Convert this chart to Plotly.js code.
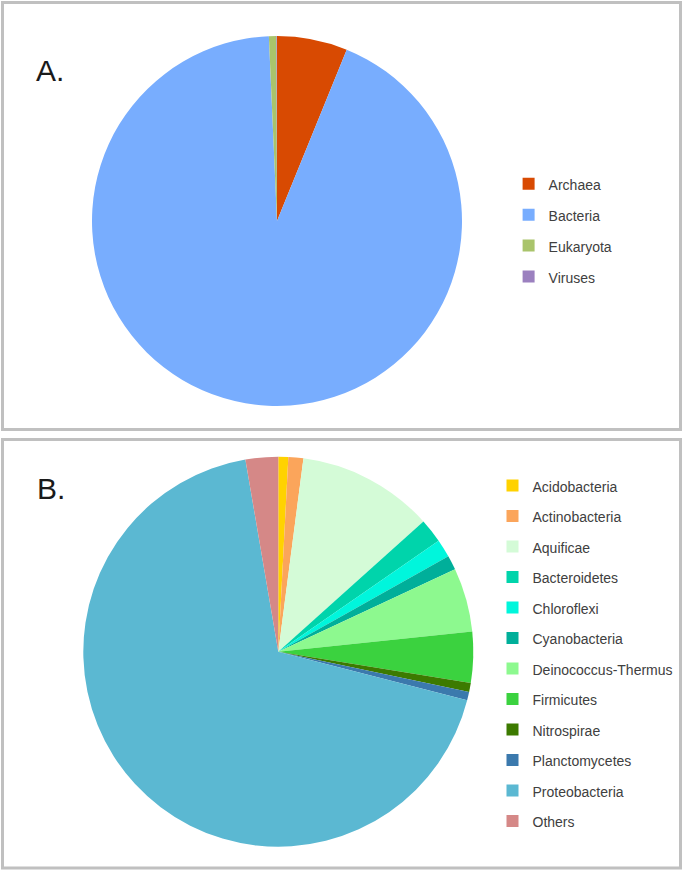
<!DOCTYPE html>
<html>
<head>
<meta charset="utf-8">
<script src="https://cdn.plot.ly/plotly-3.0.1.min.js"></script>
<style>html,body{margin:0;padding:0;background:#fff;}#chart{width:685px;height:873px;}</style>
</head>
<body>
<div id="chart"></div>
<script>
// Panel A: domains of life
const domainLabels = ['Archaea', 'Bacteria', 'Eukaryota', 'Viruses'];
const domainValues = [6.15, 93.15, 0.65, 0.05];
const domainColors = ['#D84A02', '#78ADFE', '#A9C46B', '#9B80BF'];

// Panel B: bacterial phyla
const phylumLabels = ['Acidobacteria', 'Actinobacteria', 'Aquificae', 'Bacteroidetes', 'Chloroflexi',
  'Cyanobacteria', 'Deinococcus-Thermus', 'Firmicutes', 'Nitrospirae', 'Planctomycetes',
  'Proteobacteria', 'Others'];
const phylumValues = [0.82, 1.24, 11.3, 2.0, 1.5, 1.2, 5.3, 4.2, 0.75, 0.7, 68.3, 2.7];
const phylumColors = ['#FFD200', '#FBA55B', '#D4FBD7', '#00D4AB', '#00F6DC', '#00AF9A',
  '#8DF98F', '#3BD23F', '#3C7A00', '#3B79AD', '#5BB8D2', '#D58887'];

const panelLetters = ['A.', 'B.'];

const W = 685, H = 873;
const px = v => v / W;
const py = v => 1 - v / H;
const wrap = s => '<span style="font-size:14px;baseline-shift:2px">' + s + '</span>';

const traces = [
  {
    type: 'pie', labels: domainLabels.map(wrap), values: domainValues,
    marker: {colors: domainColors, line: {width: 0}},
    sort: false, direction: 'clockwise', rotation: 0,
    textinfo: 'none', hoverinfo: 'label+percent',
    domain: {x: [px(92), px(462)], y: [py(406), py(36)]},
    legend: 'legend'
  },
  {
    type: 'pie', labels: phylumLabels.map(wrap), values: phylumValues,
    marker: {colors: phylumColors, line: {width: 0}},
    sort: false, direction: 'clockwise', rotation: 0,
    textinfo: 'none', hoverinfo: 'label+percent',
    domain: {x: [px(83.3), px(473.3)], y: [py(846.7), py(456.7)]},
    legend: 'legend2'
  }
];

const frame = (y0, y1) => ({
  type: 'rect', xref: 'paper', yref: 'paper',
  x0: px(2.5), x1: px(680.5), y0: py(y1), y1: py(y0),
  line: {color: '#C0C0C0', width: 3}, fillcolor: 'rgba(0,0,0,0)'
});

const layout = {
  width: W, height: H,
  margin: {l: 0, r: 0, t: 0, b: 0},
  paper_bgcolor: '#fff',
  font: {family: '"Liberation Sans", Arial, sans-serif', color: '#404040'},
  showlegend: true,
  legend: {
    x: px(508.6), xanchor: 'left', y: py(163.3), yanchor: 'top',
    font: {size: 21.46, color: '#404040'}, bgcolor: 'rgba(0,0,0,0)', borderwidth: 0
  },
  legend2: {
    x: px(492.5), xanchor: 'left', y: py(465.2), yanchor: 'top',
    font: {size: 21.15, color: '#404040'}, bgcolor: 'rgba(0,0,0,0)', borderwidth: 0
  },
  shapes: [frame(2.5, 429.5), frame(439.5, 868)],
  annotations: [
    {text: panelLetters[0], xref: 'paper', yref: 'paper', x: px(34), y: py(70.5),
     xanchor: 'left', yanchor: 'middle', showarrow: false,
     font: {size: 30, color: '#1A1A1A', family: '"Liberation Sans", Arial, sans-serif'}},
    {text: panelLetters[1], xref: 'paper', yref: 'paper', x: px(35), y: py(488),
     xanchor: 'left', yanchor: 'middle', showarrow: false,
     font: {size: 30, color: '#1A1A1A', family: '"Liberation Sans", Arial, sans-serif'}}
  ]
};

Plotly.newPlot('chart', traces, layout, {displayModeBar: false, staticPlot: true});
</script>
</body>
</html>
